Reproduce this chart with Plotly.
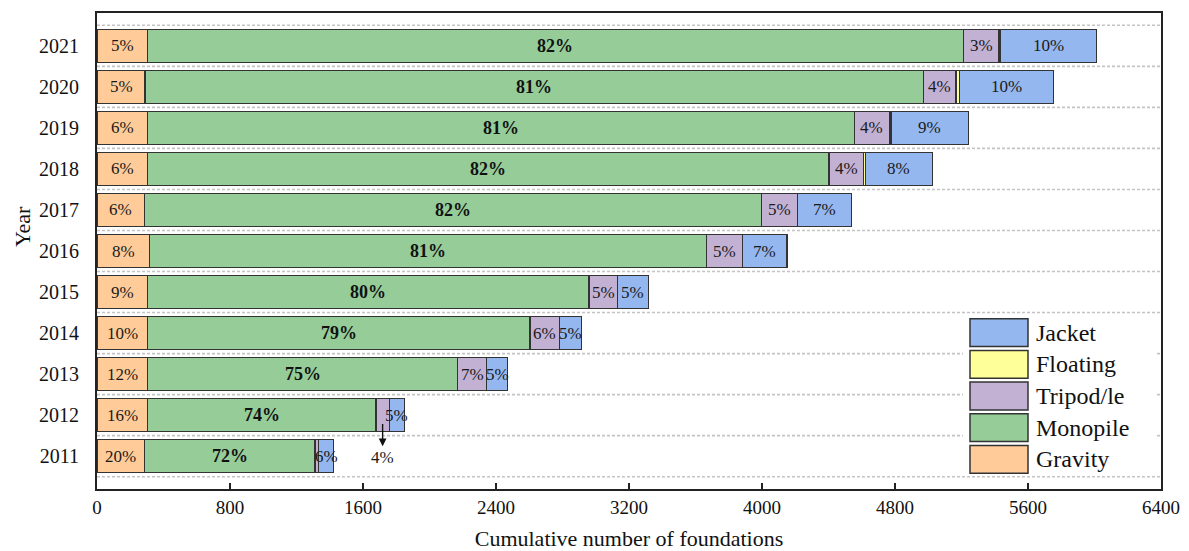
import plotly.graph_objects as go

years = ["2011", "2012", "2013", "2014", "2015", "2016", "2017", "2018", "2019", "2020", "2021"]
gravity = [285, 303, 303, 303, 303, 315, 285, 303, 303, 289, 303]
monopile = [1026, 1375, 1867, 2302, 2656, 3352, 3713, 4100, 4252, 4681, 4908]
tripod = [20, 80, 174, 176, 171, 215, 216, 207, 211, 197, 214]
floating = [0, 0, 0, 0, 0, 0, 0, 12, 10, 20, 10]
jacket = [93, 90, 126, 134, 186, 268, 326, 403, 467, 565, 578]

gravity_lbl = ["20%", "16%", "12%", "10%", "9%", "8%", "6%", "6%", "6%", "5%", "5%"]
monopile_lbl = ["72%", "74%", "75%", "79%", "80%", "81%", "82%", "82%", "81%", "81%", "82%"]
tripod_lbl = ["", "4%", "7%", "6%", "5%", "5%", "5%", "4%", "4%", "4%", "3%"]
jacket_lbl = ["6%", "5%", "5%", "5%", "5%", "7%", "7%", "8%", "9%", "10%", "10%"]

series = [
    ("Gravity", gravity, "#FFCC99"),
    ("Monopile", monopile, "#95CC98"),
    ("Tripod/le", tripod, "#C3B1D4"),
    ("Floating", floating, "#FFFF99"),
    ("Jacket", jacket, "#94B7EF"),
]

FONT = "Liberation Serif"
pos = list(range(len(years)))

fig = go.Figure()
for name, vals, col in series:
    fig.add_trace(go.Bar(
        y=pos, x=vals, name=name, orientation="h", width=0.8,
        marker=dict(color=col, line=dict(color="#333333", width=1.3)),
        showlegend=False,
    ))

# gridlines at category boundaries
shapes = []
for i in range(len(years) + 1):
    shapes.append(dict(type="line", xref="paper", yref="y", x0=0, x1=1,
                       y0=i - 0.5, y1=i - 0.5, layer="below",
                       line=dict(color="#C4C4C4", width=1.6, dash="3px,2px")))

annotations = []
for i in pos:
    g0 = 0
    g1 = gravity[i]
    m1 = g1 + monopile[i]
    t1 = m1 + tripod[i]
    f1 = t1 + floating[i]
    j1 = f1 + jacket[i]
    annotations.append(dict(x=(g0 + g1) / 2, y=i, text=gravity_lbl[i], showarrow=False,
                            font=dict(family=FONT, size=17, color="#1a1a1a")))
    annotations.append(dict(x=(g1 + m1) / 2, y=i, text="<b>" + monopile_lbl[i] + "</b>", showarrow=False,
                            font=dict(family=FONT, size=18, color="#111111")))
    if tripod_lbl[i]:
        if i == 1:
            cx = (m1 + t1) / 2
            annotations.append(dict(x=cx, y=i - 0.76, ax=cx, ay=i - 0.18, axref="x", ayref="y",
                                    xref="x", yref="y", text="", showarrow=True,
                                    arrowhead=2, arrowsize=1.1, arrowwidth=1.4, arrowcolor="#111111"))
            annotations.append(dict(x=cx, y=i - 1.03, text=tripod_lbl[i], showarrow=False,
                                    font=dict(family=FONT, size=17, color="#1a1a1a")))
        else:
            annotations.append(dict(x=(m1 + t1) / 2, y=i, text=tripod_lbl[i], showarrow=False,
                                    font=dict(family=FONT, size=17, color="#1a1a1a")))
    annotations.append(dict(x=(f1 + j1) / 2, y=i, text=jacket_lbl[i], showarrow=False,
                            font=dict(family=FONT, size=17, color="#1a1a1a")))

# page geometry (the page body adds an 8px offset)
OFF = 8
W, H = 1189 - OFF, 551 - OFF
L, R, T, B = 97, 1161, 11, 489


def px_x(p):
    return (p - L) / (R - L)


def px_y(p):
    return (B - p) / (B - T)


shapes.append(dict(type="rect", xref="paper", yref="paper", x0=px_x(963), x1=px_x(1155),
                   y0=px_y(474), y1=px_y(316), fillcolor="white", line=dict(width=0), layer="below"))
legend_items = [("Jacket", "#94B7EF"), ("Floating", "#FFFF99"), ("Tripod/le", "#C3B1D4"),
                ("Monopile", "#95CC98"), ("Gravity", "#FFCC99")]
for k, (name, col) in enumerate(legend_items):
    cy = 332 + k * 31.8
    shapes.append(dict(type="rect", xref="paper", yref="paper", x0=px_x(970), x1=px_x(1028),
                       y0=px_y(cy + 14), y1=px_y(cy - 14), fillcolor=col,
                       line=dict(color="#333333", width=1.5), layer="above"))
    annotations.append(dict(xref="paper", yref="paper", x=px_x(1034), y=px_y(cy), text=name,
                            xanchor="left", yanchor="middle", showarrow=False,
                            font=dict(family=FONT, size=24, color="#111111")))

annotations.append(dict(xref="paper", yref="paper", x=px_x(22), y=px_y(226), text="Year",
                        textangle=-90, showarrow=False, xanchor="center", yanchor="middle",
                        font=dict(family=FONT, size=22, color="#111111")))

fig.update_layout(
    width=W, height=H,
    margin=dict(l=L - OFF, r=W - (R - OFF), t=T - OFF, b=H - (B - OFF)),
    barmode="stack",
    plot_bgcolor="white", paper_bgcolor="white",
    shapes=shapes, annotations=annotations,
    font=dict(family=FONT, color="#111111"),
)
fig.update_xaxes(range=[0, 6400], dtick=800, tick0=0, showgrid=False, zeroline=False,
                 showline=True, linecolor="#222222", linewidth=2, mirror=True,
                 ticks="inside", ticklen=6, tickwidth=1.5, tickcolor="#222222",
                 tickfont=dict(family=FONT, size=19, color="#111111"),
                 title=dict(text="Cumulative number of foundations", standoff=14,
                            font=dict(family=FONT, size=22, color="#111111")))
fig.update_yaxes(range=[-0.8, 10.8], tickvals=pos, ticktext=years, showgrid=False, zeroline=False,
                 showline=True, linecolor="#222222", linewidth=2, mirror=True,
                 ticks="", ticklabelstandoff=12,
                 tickfont=dict(family=FONT, size=20, color="#111111"))

fig.write_html("out.html")
